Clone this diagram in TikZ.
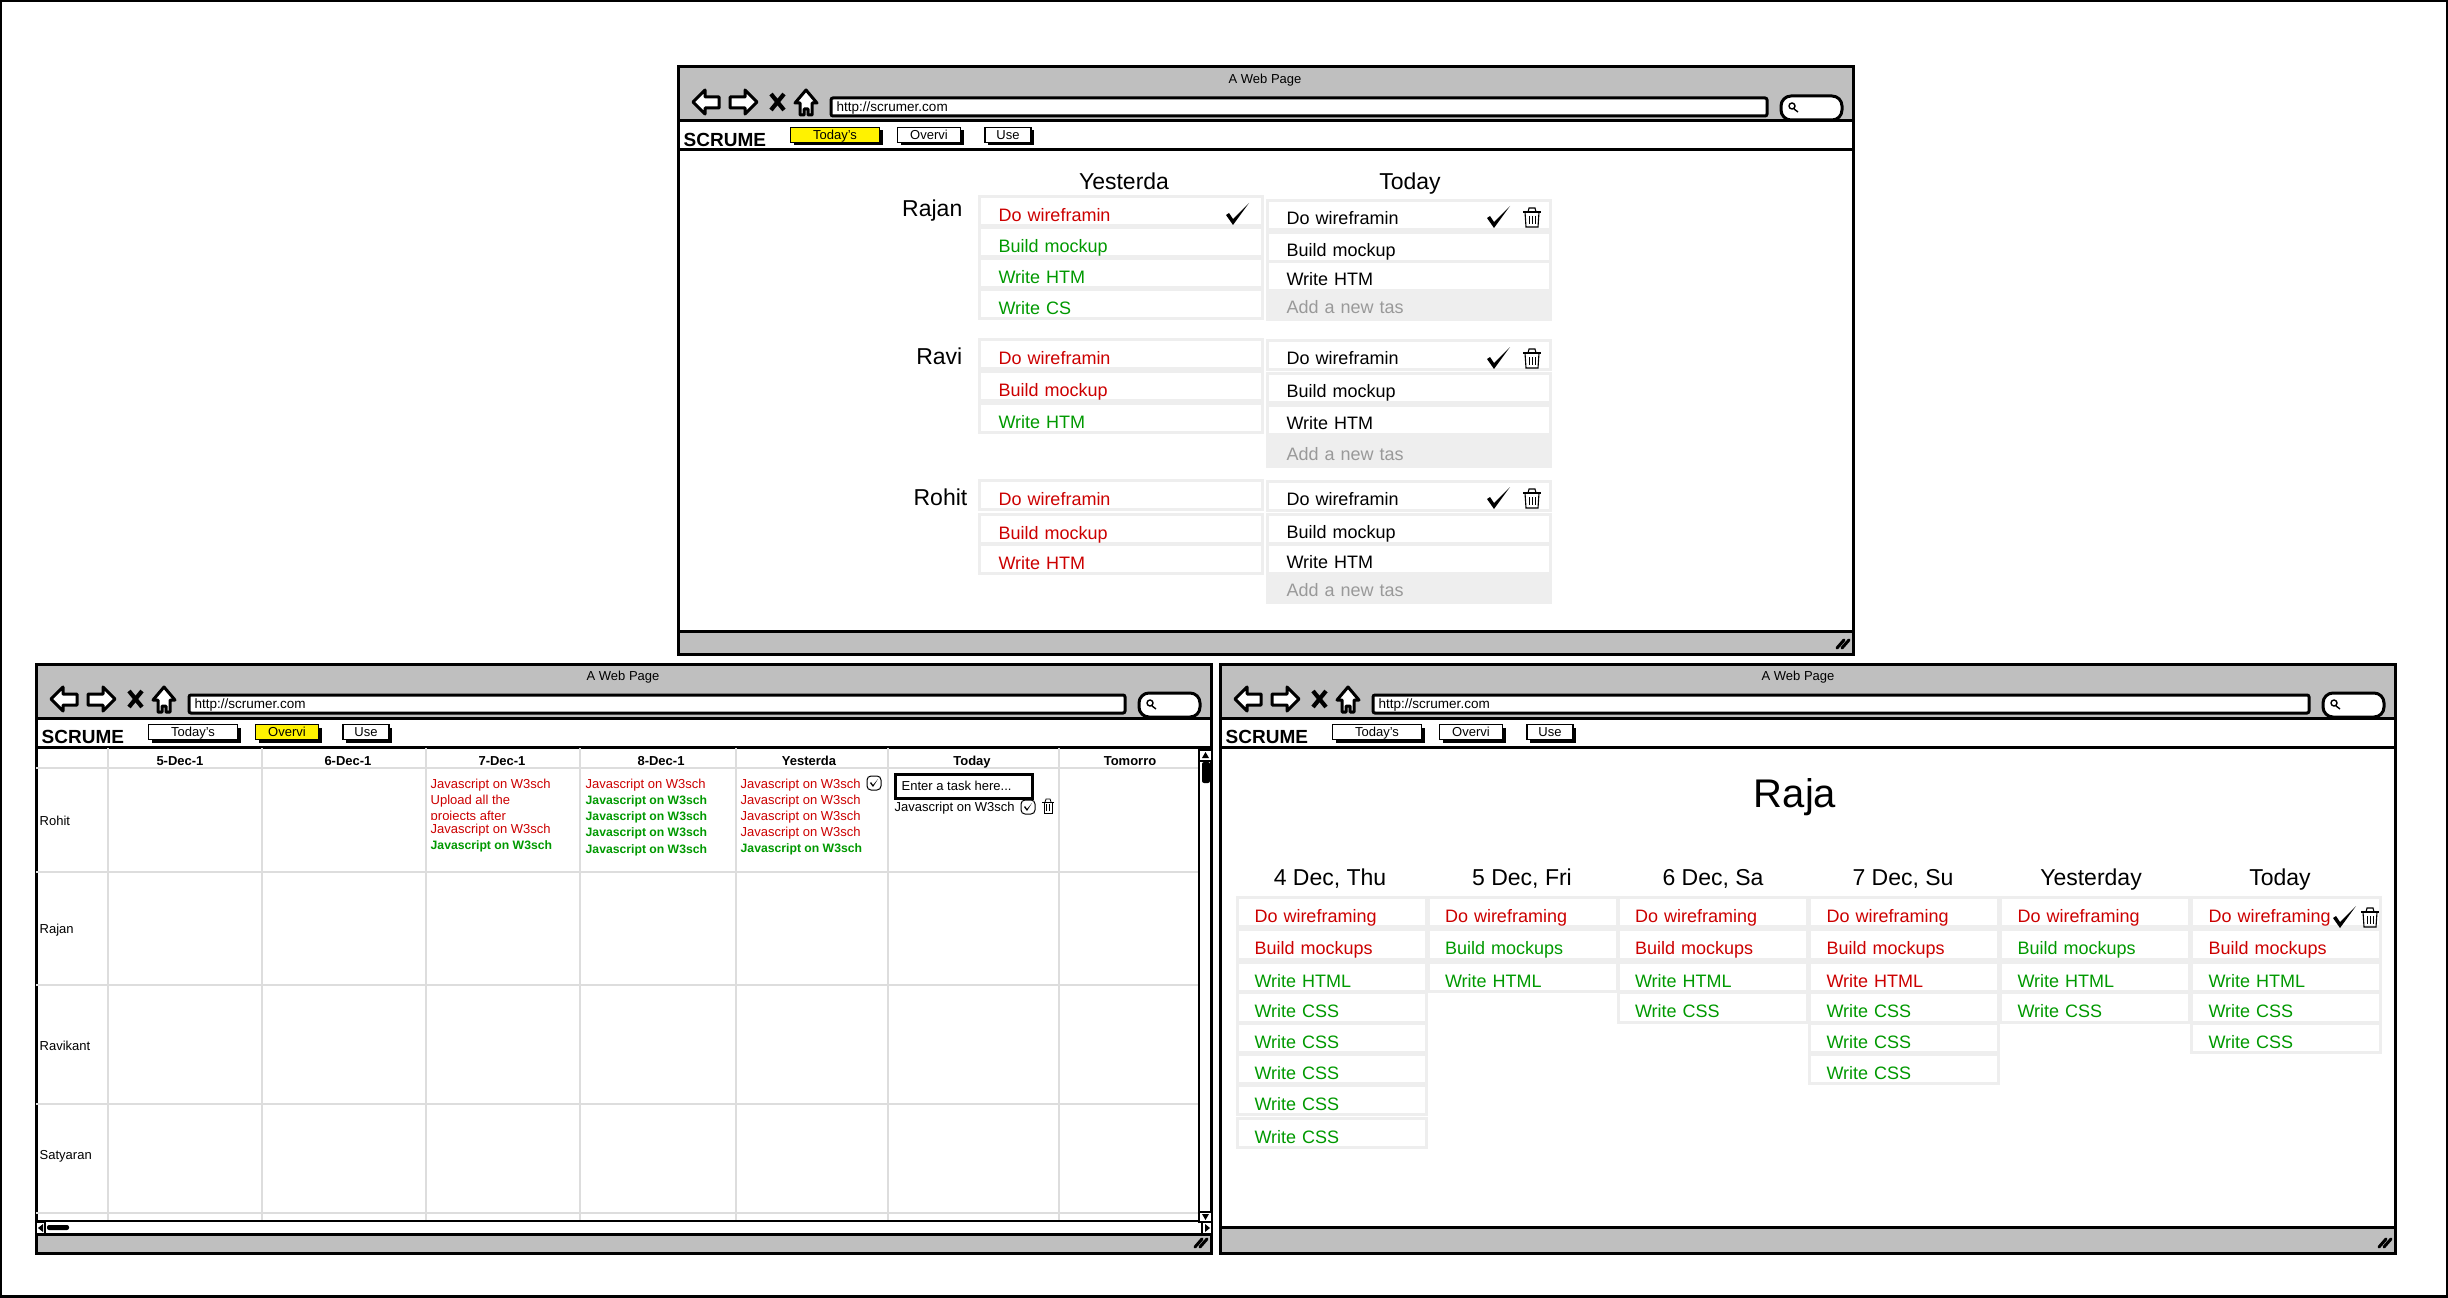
\documentclass[tikz,border=0pt]{standalone}
\usepackage{fontspec}
\setmainfont{Liberation Sans}
\usetikzlibrary{shadows}

\definecolor{taskred}{HTML}{CC0000}
\definecolor{taskgreen}{HTML}{009900}
\definecolor{rowgray}{HTML}{EEEEEE}
\definecolor{barfill}{HTML}{BFBFBF}
\definecolor{gridgray}{HTML}{DDDDDD}
\definecolor{addgray}{HTML}{999999}

\tikzset{
  winline/.style={draw=black, line width=0.3mm},
  thinline/.style={draw=black, line width=0.18mm},
  gridline/.style={draw=gridgray, line width=0.18mm},
  plaintext/.style={inner sep=0pt, text depth=0pt, font=\fontsize{1.3mm}{1.5mm}\selectfont},
  urltext/.style={plaintext, anchor=west, font=\fontsize{1.35mm}{1.5mm}\selectfont},
  logotext/.style={plaintext, anchor=west, font=\bfseries\fontsize{1.9mm}{2.2mm}\selectfont},
  headtext/.style={plaintext, font=\fontsize{2.3mm}{2.6mm}\selectfont},
  nametext/.style={headtext, anchor=east},
  colhead/.style={plaintext, font=\bfseries\fontsize{1.3mm}{1.5mm}\selectfont},
  rowname/.style={plaintext, anchor=west},
  tasktext/.style={plaintext, anchor=west, text=taskred},
  donetext/.style={plaintext, anchor=west, text=taskgreen, font=\bfseries\fontsize{1.22mm}{1.5mm}\selectfont},
  navbtn/.style={thinline, inner sep=0pt, text depth=0pt, minimum height=1.5mm, font=\fontsize{1.3mm}{1.5mm}\selectfont,
    drop shadow={shadow xshift=0.3mm, shadow yshift=-0.3mm, opacity=1, fill=black}},
  rowbox/.style={draw=rowgray, line width=0.3mm, inner ysep=0pt, minimum height=2.95mm, text height=2.05mm,
    text depth=0pt, align=left, font=\fontsize{1.8mm}{2mm}\selectfont},
  toprow/.style={rowbox, inner xsep=1.9mm, text width=24.5mm},
  todayrow/.style={toprow, text height=1.85mm},
  siderow/.style={rowbox, inner xsep=1.7mm, text width=15.5mm},
  addrow/.style={toprow, fill=rowgray, text=addgray, text height=1.7mm},
  red/.style={text=taskred},
  grn/.style={text=taskgreen},
  checkmark/.pic={\fill (-12,1) -- (-9,-1) -- (-5,5) -- (11,-11) -- (-5,11) -- cycle;},
  trashcan/.pic={
    \draw[line width=0.11mm] (-7,-5) -- (-6,10) -- (6,10) -- (7,-5);
    \draw[line width=0.14mm] (-9,-5) -- (9,-5);
    \draw[line width=0.11mm] (-4,-5) -- (-3,-9) -- (3,-9) -- (4,-5);
    \draw[line width=0.09mm] (-3,-1) -- (-3,7) (0,-1) -- (0,7) (3,-1) -- (3,7);},
  smallcheck/.pic={
    \draw[line width=0.1mm, rounded corners=0.4mm] (-7,-7) rectangle (7,7);
    \fill (-4,0) -- (-3,-1) -- (-1,2) -- (4,-4) -- (-1,4) -- cycle;},
  smalltrash/.pic={
    \draw[line width=0.08mm] (-4,-4) -- (-4,7) -- (4,7) -- (4,-4);
    \draw[line width=0.1mm] (-6,-4) -- (6,-4);
    \draw[line width=0.08mm] (-3,-4) -- (-2,-7) -- (2,-7) -- (3,-4);
    \draw[line width=0.06mm] (-1.5,-2) -- (-1.5,5) (1.5,-2) -- (1.5,5);},
}

% name, left, top, height, status bar top, fill of the first and second tab, title x
\newcommand{\browserwin}[8]{
  \begin{scope}[shift={(#2,#3)}]
    \draw[winline, fill=white] (0,0) rectangle (1175,#4);
    \draw[winline, fill=barfill] (0,0) rectangle (1175,54);
    \draw[winline] (0,83) -- (1175,83);
    \draw[winline, fill=barfill] (0,#5) rectangle (1175,#4);
    \node[plaintext] (#1title) at (#8,12) {A Web Page};
    % Browser icons
    \draw[winline, fill=white, line join=round] (15,35) -- (27,23) -- (27,30) -- (41,30) -- (41,41) -- (27,41) -- (27,47) -- cycle;
    \draw[winline, fill=white, line join=round] (79,35) -- (67,23) -- (67,30) -- (52,30) -- (52,41) -- (67,41) -- (67,47) -- cycle;
    \draw[line width=0.42mm] (93,27) -- (106,43) (106,27) -- (93,43);
    \draw[winline, fill=white, line join=round] (128,23) -- (139,36) -- (134,36) -- (134,48) -- (130,48) -- (130,42) -- (126,42) -- (126,48) -- (122,48) -- (122,36) -- (117,36) -- cycle;
    \draw[winline, fill=white, rounded corners=0.2mm] (153,31) rectangle (1089,49);
    \node[urltext] (#1url) at (158,40) {http://scrumer.com};
    \draw[winline, fill=white, rounded corners=1mm] (1103,29) rectangle (1164,53);
    \draw[line width=0.14mm] (1114,39) circle (3) (1116,42) -- (1120,45);
    % Menu bar
    \node[logotext] (#1logo) at (5,73) {SCRUME};
    \node[navbtn, fill=#6, minimum width=8.9mm] (#1today) at (157,68) {Today's};
    \node[navbtn, fill=#7, minimum width=6.3mm] (#1over) at (251,68) {Overvi};
    \node[navbtn, fill=white, minimum width=4.6mm] (#1use) at (330,68) {Use};
    \draw[line width=0.3mm, line cap=round] (1159,#4-6) -- (1166,#4-14) (1164,#4-6) -- (1171,#4-14);
  \end{scope}}

\begin{document}
\begin{tikzpicture}[x=0.1mm, y=-0.1mm]
  \useasboundingbox (0,0) rectangle (2448,1298);
  \fill[white] (0,0) rectangle (2448,1298);
  \draw[line width=0.3mm] (1,1) rectangle (2447,1296);

  % Top window
  \browserwin{top}{678}{67}{587}{564}{yellow}{white}{587}
  \node[headtext] (tophy) at (1124,181) {Yesterda};
  \node[headtext] (tophz) at (1410,181) {Today};

  \node[nametext] (rajan) at (963,208) {Rajan};
  \node[toprow, red] (ry1) at (1121,211) {Do wireframin};
  \node[toprow, grn] (ry2) at (1121,242) {Build mockup};
  \node[toprow, grn] (ry3) at (1121,273) {Write HTM};
  \node[toprow, grn] (ry4) at (1121,304) {Write CS};
  \node[todayrow] (rt1) at (1409,215) {Do wireframin};
  \node[todayrow] (rt2) at (1409,247) {Build mockup};
  \node[todayrow] (rt3) at (1409,276) {Write HTM};
  \node[addrow] (rt4) at (1409,305) {Add a new tas};
  \pic at (1238,214) {checkmark};
  \pic at (1499,217) {checkmark};
  \pic at (1532,217) {trashcan};

  \node[nametext] (ravi) at (963,356) {Ravi};
  \node[toprow, red] (vy1) at (1121,354) {Do wireframin};
  \node[todayrow] (vt1) at (1409,355) {Do wireframin};
  \node[toprow, red] (vy2) at (1121,386) {Build mockup};
  \node[todayrow] (vt2) at (1409,388) {Build mockup};
  \node[toprow, grn] (vy3) at (1121,418) {Write HTM};
  \node[todayrow] (vt3) at (1409,420) {Write HTM};
  \node[addrow] (vt4) at (1409,452) {Add a new tas};
  \pic at (1499,358) {checkmark};
  \pic at (1532,358) {trashcan};

  \node[nametext] (rohit) at (968,497) {Rohit};
  \node[toprow, red] (hy1) at (1121,495) {Do wireframin};
  \node[todayrow] (ht1) at (1409,496) {Do wireframin};
  \node[toprow, red] (hy2) at (1121,529) {Build mockup};
  \node[todayrow] (ht2) at (1409,529) {Build mockup};
  \node[toprow, red] (hy3) at (1121,559) {Write HTM};
  \node[todayrow] (ht3) at (1409,559) {Write HTM};
  \node[addrow] (ht4) at (1409,588) {Add a new tas};
  \pic at (1499,498) {checkmark};
  \pic at (1532,498) {trashcan};

  % Left window
  \browserwin{left}{36}{664}{589}{570}{white}{yellow}{587}
  \foreach \x in {108,262,426,580,736,888,1059}
    \draw[gridline] (\x,748) -- (\x,1221);
  \foreach \y in {768,872,985,1104,1213}
    \draw[gridline] (36,\y) -- (1199,\y);

  \node[colhead] (d5) at (180,761) {5-Dec-1};
  \node[colhead] (d6) at (348,761) {6-Dec-1};
  \node[colhead] (d7) at (502,761) {7-Dec-1};
  \node[colhead] (d8) at (661,761) {8-Dec-1};
  \node[colhead] (dy) at (809,761) {Yesterda};
  \node[colhead] (dt) at (972,761) {Today};
  \node[colhead] (dm) at (1130,761) {Tomorro};

  \node[rowname] (nrohit) at (39,821) {Rohit};
  \node[rowname] (nrajan) at (39,929) {Rajan};
  \node[rowname] (nravi) at (39,1046) {Ravikant};
  \node[rowname] (nsatya) at (39,1155) {Satyaran};

  \node[tasktext] (s1) at (430,784) {Javascript on W3sch};
  \node[tasktext] (s2) at (430,800) {Upload all the};
  \begin{scope}
    \clip (426,808) rectangle (580,819);
    \node[tasktext] (s3) at (430,816) {projects after};
  \end{scope}
  \node[tasktext] (s4) at (430,829) {Javascript on W3sch};
  \node[donetext] (s5) at (430,845) {Javascript on W3sch};

  \node[tasktext] (e1) at (585,784) {Javascript on W3sch};
  \node[donetext] (e2) at (585,800) {Javascript on W3sch};
  \node[donetext] (e3) at (585,816) {Javascript on W3sch};
  \node[donetext] (e4) at (585,832) {Javascript on W3sch};
  \node[donetext] (e5) at (585,849) {Javascript on W3sch};

  \node[tasktext] (y1) at (740,784) {Javascript on W3sch};
  \node[tasktext] (y2) at (740,800) {Javascript on W3sch};
  \node[tasktext] (y3) at (740,816) {Javascript on W3sch};
  \node[tasktext] (y4) at (740,832) {Javascript on W3sch};
  \node[donetext] (y5) at (740,848) {Javascript on W3sch};
  \pic at (874,783) {smallcheck};

  \node[winline, inner sep=0pt, minimum width=13.7mm, minimum height=2.4mm] (entry) at (963.5,786) {};
  \node[plaintext, anchor=west] (entrytext) at (901,786) {Enter a task here...};
  \node[plaintext, anchor=west] (t1) at (894,807) {Javascript on W3sch};
  \pic at (1028,807) {smallcheck};
  \pic at (1048,806) {smalltrash};

  % Scroll bars
  \draw[thinline] (36,1221) -- (1199,1221);
  \draw[thinline] (1199,750) -- (1199,1222);
  \draw[thinline, fill=white] (1199,750) rectangle (1212,761);
  \fill (1205.5,752) -- (1209,758) -- (1202,758) -- cycle;
  \fill[rounded corners=0.2mm] (1202,762) rectangle (1210,783);
  \draw[thinline, fill=white] (1199,1212) rectangle (1212,1222);
  \fill (1205.5,1220) -- (1209,1214) -- (1202,1214) -- cycle;
  \draw[thinline, fill=white] (1202,1222) rectangle (1212,1234);
  \fill (1210,1228) -- (1205,1224) -- (1205,1232) -- cycle;
  \draw[thinline, fill=white] (36,1222) rectangle (45,1234);
  \fill (38,1228) -- (43,1224) -- (43,1232) -- cycle;
  \fill[rounded corners=0.2mm] (47,1225) rectangle (69,1230);

  % Right window
  \browserwin{right}{1220}{664}{589}{563}{white}{white}{578}
  \node[plaintext, font=\fontsize{4mm}{4.4mm}\selectfont] (raja) at (1795,793) {Raja};
  \node[headtext] (c1) at (1330,877) {4 Dec, Thu};
  \node[headtext] (c2) at (1522,877) {5 Dec, Fri};
  \node[headtext] (c3) at (1713,877) {6 Dec, Sa};
  \node[headtext] (c4) at (1903,877) {7 Dec, Su};
  \node[headtext] (c5) at (2091,877) {Yesterday};
  \node[headtext] (c6) at (2280,877) {Today};

  \node[siderow, red] (a1) at (1332,912) {Do wireframing};
  \node[siderow, red] (a2) at (1332,944.5) {Build mockups};
  \node[siderow, grn] (a3) at (1332,977) {Write HTML};
  \node[siderow, grn] (a4) at (1332,1007.5) {Write CSS};
  \node[siderow, grn] (a5) at (1332,1038) {Write CSS};
  \node[siderow, grn] (a6) at (1332,1069) {Write CSS};
  \node[siderow, grn] (a7) at (1332,1100) {Write CSS};
  \node[siderow, grn] (a8) at (1332,1133) {Write CSS};

  \node[siderow, red] (b1) at (1522.5,912) {Do wireframing};
  \node[siderow, grn] (b2) at (1522.5,944.5) {Build mockups};
  \node[siderow, grn] (b3) at (1522.5,977) {Write HTML};

  \node[siderow, red] (f1) at (1712.5,912) {Do wireframing};
  \node[siderow, red] (f2) at (1712.5,944.5) {Build mockups};
  \node[siderow, grn] (f3) at (1712.5,977) {Write HTML};
  \node[siderow, grn] (f4) at (1712.5,1007.5) {Write CSS};

  \node[siderow, red] (g1) at (1904,912) {Do wireframing};
  \node[siderow, red] (g2) at (1904,944.5) {Build mockups};
  \node[siderow, red] (g3) at (1904,977) {Write HTML};
  \node[siderow, grn] (g4) at (1904,1007.5) {Write CSS};
  \node[siderow, grn] (g5) at (1904,1038) {Write CSS};
  \node[siderow, grn] (g6) at (1904,1069) {Write CSS};

  \node[siderow, red] (k1) at (2095,912) {Do wireframing};
  \node[siderow, grn] (k2) at (2095,944.5) {Build mockups};
  \node[siderow, grn] (k3) at (2095,977) {Write HTML};
  \node[siderow, grn] (k4) at (2095,1007.5) {Write CSS};

  \node[siderow, red] (m1) at (2286,912) {Do wireframing};
  \node[siderow, red] (m2) at (2286,944.5) {Build mockups};
  \node[siderow, grn] (m3) at (2286,977) {Write HTML};
  \node[siderow, grn] (m4) at (2286,1007.5) {Write CSS};
  \node[siderow, grn] (m5) at (2286,1038) {Write CSS};
  \pic at (2345,917) {checkmark};
  \pic at (2370,917) {trashcan};
\end{tikzpicture}
\end{document}
